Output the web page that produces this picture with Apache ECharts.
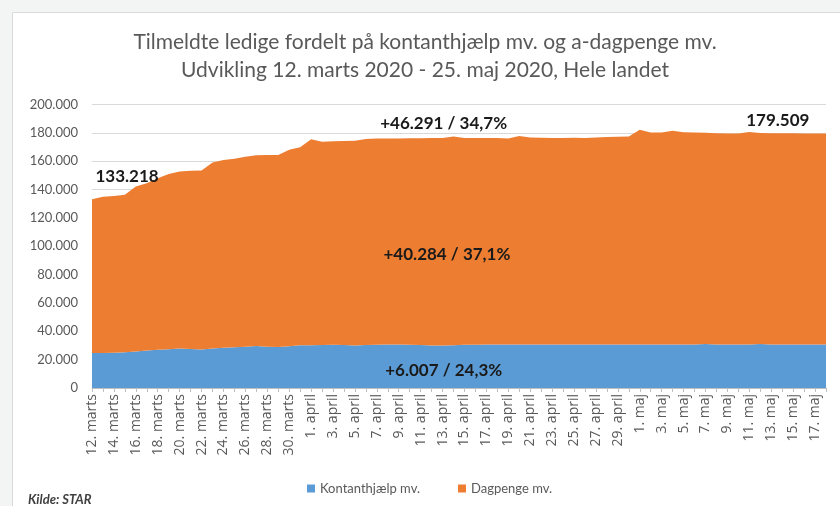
<!DOCTYPE html>
<html>
<head>
<meta charset="utf-8">
<script src="https://cdn.jsdelivr.net/npm/echarts@6/dist/echarts.min.js"></script>
<style>
html,body{margin:0;padding:0;background:#f3f4f4;}
#chart{width:840px;height:506px;}
</style>
</head>
<body>
<div id="chart"></div>
<script>
const categories = [
 "12. marts","13. marts","14. marts","15. marts","16. marts","17. marts","18. marts","19. marts","20. marts","21. marts",
 "22. marts","23. marts","24. marts","25. marts","26. marts","27. marts","28. marts","29. marts","30. marts","31. marts",
 "1. april","2. april","3. april","4. april","5. april","6. april","7. april","8. april","9. april","10. april",
 "11. april","12. april","13. april","14. april","15. april","16. april","17. april","18. april","19. april","20. april",
 "21. april","22. april","23. april","24. april","25. april","26. april","27. april","28. april","29. april","30. april",
 "1. maj","2. maj","3. maj","4. maj","5. maj","6. maj","7. maj","8. maj","9. maj","10. maj",
 "11. maj","12. maj","13. maj","14. maj","15. maj","16. maj","17. maj","18. maj"
];
const kontanthjaelp = [
 24700,24750,24900,25300,25800,26400,26950,27400,27800,27550,
 27200,27900,28450,28700,29050,29600,29050,28900,29400,30200,
 30150,30300,30450,30300,29900,30300,30500,30650,30650,30500,
 30300,29950,29950,30200,30500,30550,30600,30600,30600,30650,
 30650,30600,30650,30650,30700,30650,30650,30700,30700,30650,
 30700,30700,30650,30700,30700,30750,31100,30750,30700,30700,
 30750,31100,30750,30700,30700,30700,30700,30707
];
const dagpenge = [
 108518,110250,110600,111000,116300,118100,121050,123600,124900,125650,
 126200,131100,132450,133100,134150,134600,135350,135500,138600,139700,
 145350,143500,143550,144000,144600,145400,145500,145350,145450,145700,
 145900,146350,146450,147200,145900,145750,145700,145700,145400,147050,
 146050,145900,145750,145750,145800,145650,146150,146300,146500,146850,
 151400,149500,149650,150700,149800,149450,148900,149050,148900,148900,
 149850,148800,149050,149000,149000,148900,148900,148802
];
const seriesNames = ["Kontanthjælp mv.", "Dagpenge mv."];
const titleLines = ["Tilmeldte ledige fordelt på kontanthjælp mv. og a-dagpenge mv.",
                    "Udvikling 12. marts 2020 - 25. maj 2020, Hele landet"];
// annotations: [text, category index (fractional), value]
const annotations = [
 ["133.218", 3.2, 149300],
 ["+46.291 / 34,7%", 32.1, 186600],
 ["+40.284 / 37,1%", 32.4, 94400],
 ["+6.007 / 24,3%", 32.1, 12000],
 ["179.509", 62.6, 189000]
];
const sourceText = "Kilde: STAR";

const FONT = "Lato, 'Noto Sans', sans-serif";
const chart = echarts.init(document.getElementById('chart'), null, {renderer:'canvas'});
function fmt(v){ return v === 0 ? '0' : String(v).replace(/\B(?=(\d{3})+(?!\d))/g, '.'); }

chart.setOption({
  animation:false,
  backgroundColor:'transparent',
  textStyle:{fontFamily:FONT},
  grid:{left:92, right:14, top:104.5, bottom:118},
  legend:{
    data:seriesNames, left:302, top:477, icon:'rect', itemWidth:8, itemHeight:8, itemGap:38,
    textStyle:{color:'#595959', fontSize:13, fontFamily:FONT}
  },
  xAxis:{
    type:'category', data:categories, boundaryGap:false,
    axisLine:{lineStyle:{color:'#bfbfbf'}},
    axisTick:{show:true, interval:0, length:4, lineStyle:{color:'#bfbfbf'}},
    axisLabel:{interval:1, rotate:90, color:'#595959', fontSize:14, fontFamily:"'Open Sans', Lato, sans-serif", margin:6}
  },
  yAxis:{
    type:'value', min:0, max:200000, interval:20000,
    axisLine:{show:false}, axisTick:{show:false},
    splitLine:{lineStyle:{color:'#d9d9d9'}},
    axisLabel:{color:'#595959', fontSize:13, fontFamily:FONT, margin:14, formatter:fmt}
  },
  series:[
    {name:seriesNames[0], type:'line', stack:'t', data:kontanthjaelp, showSymbol:false, symbol:'none',
     lineStyle:{width:0}, areaStyle:{color:'#5b9bd5', opacity:1}, itemStyle:{color:'#5b9bd5'}},
    {name:seriesNames[1], type:'line', stack:'t', data:dagpenge, showSymbol:false, symbol:'none',
     lineStyle:{width:0}, areaStyle:{color:'#ed7d31', opacity:1}, itemStyle:{color:'#ed7d31'}}
  ]
});

const p0 = chart.convertToPixel({gridIndex:0}, [0, 0]);
const p1 = chart.convertToPixel({gridIndex:0}, [1, 0]);
const dx = p1[0] - p0[0];
const graphics = [
  {type:'rect', z:-10, silent:true, shape:{x:12.5, y:12.5, width:900, height:600},
   style:{fill:'#ffffff', stroke:'#d9d9d9', lineWidth:1}},
  {type:'text', x:425, y:42, style:{text:titleLines[0], fill:'#595959', font:'21px '+FONT, textAlign:'center', textVerticalAlign:'middle'}},
  {type:'text', x:425, y:70, style:{text:titleLines[1], fill:'#595959', font:'21px '+FONT, textAlign:'center', textVerticalAlign:'middle'}},
  {type:'text', x:28, y:500, style:{text:sourceText, fill:'#404040', font:'italic bold 13px '+FONT, textAlign:'left', textVerticalAlign:'middle'}}
];
annotations.forEach(a => {
  const py = chart.convertToPixel({gridIndex:0}, [0, a[2]])[1];
  graphics.push({type:'text', z:100, x:p0[0] + a[1]*dx, y:py,
    style:{text:a[0], fill:'#1a1a1a', font:'bold 17px '+FONT, textAlign:'center', textVerticalAlign:'middle'}});
});
chart.setOption({graphic:graphics});
</script>
</body>
</html>
